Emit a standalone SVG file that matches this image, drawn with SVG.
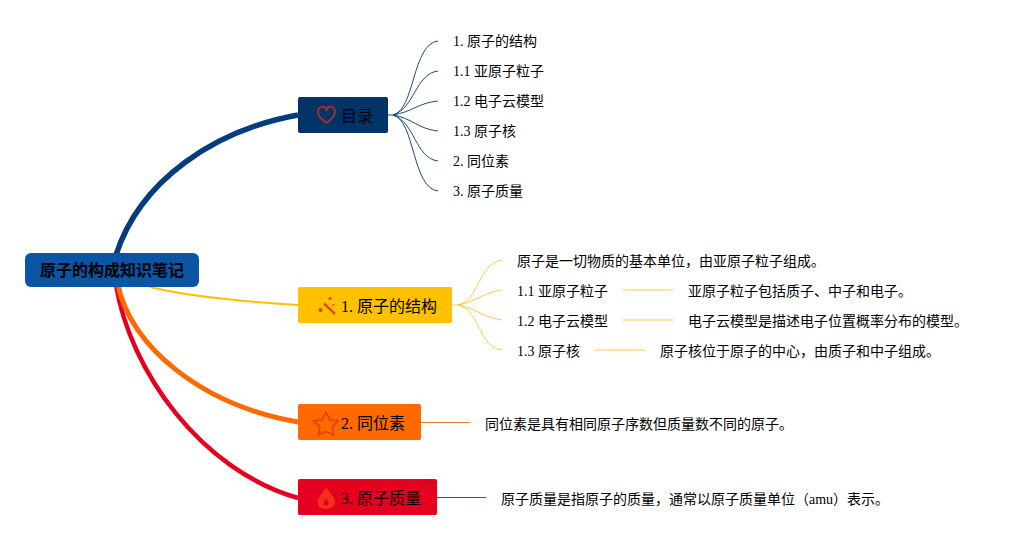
<svg xmlns="http://www.w3.org/2000/svg" width="1028" height="540" viewBox="0 0 1028 540">
<style>
text{font-family:"Liberation Serif","Noto Sans CJK SC",serif;fill:#000}
.t{font-size:14px}
.m{font-size:16px}
.r{font-size:16px;font-weight:bold}
.c{fill:none}
.thin{stroke-width:1}
.b{stroke:#1c4b80}.y{stroke:#ffc94d}
</style>
<rect width="1028" height="540" fill="#ffffff"/>
<g id="connectors">
<path class="c" stroke="#ffc000" stroke-width="2" d="M150 287C190 297 250 302 298 305"/>
<path class="c" stroke="#e60020" stroke-width="4.500" d="M116 285C130 370 200 470 298 498"/>
<path class="c" stroke="#ff6a00" stroke-width="5" d="M118 285C130 345 200 405 298 422"/>
<path class="c" stroke="#043d7d" stroke-width="5.500" d="M116 255C140 180 215 130 298 115"/>
<g class="c thin b">
<path d="M388 115H393C415 110 412 44 438 41"/>
<path d="M393 115C415 108 415 74 438 71"/>
<path d="M393 115C412 112 418 103 438 101"/>
<path d="M393 115C412 118 418 129 438 131"/>
<path d="M393 115C415 122 415 158 438 161"/>
<path d="M393 115C415 120 412 188 438 191"/>
</g>
<g class="c thin y">
<path d="M452 305H458C480 300 478 263 502 260"/>
<path d="M458 305C476 302 484 292 502 290"/>
<path d="M458 305C476 308 484 318 502 320"/>
<path d="M458 305C480 310 478 347 502 350"/>
<path d="M623 290H673"/>
<path d="M623 320H673"/>
<path d="M595 350H645"/>
</g>
<path class="c thin" stroke="#d9822b" d="M421 422.500H470"/>
<path class="c thin" stroke="#c2183a" d="M437 497.500H486"/>
</g>
<g id="root">
<rect x="25" y="253" width="174" height="34" rx="6" fill="#0b55a5"/>
<text class="r" x="40" y="276">原子的构成知识笔记</text>
</g>
<g id="node-toc">
<rect x="298" y="97" width="90" height="36" rx="2" fill="#003366"/>
<path d="M326.500 123C321 119 318 116 318 112C318 106 325 105 326.500 110C328 105 335 106 335 112C335 116 332 119 326.500 123Z" fill="none" stroke="#a83232" stroke-width="1.800"/>
<text class="m" x="341" y="122">目录</text>
</g>
<g id="node-1">
<rect x="298" y="287" width="154" height="36" rx="2" fill="#ffc000"/>
<path d="M324 303.500L335 314" stroke="#e0401a" stroke-width="2.400" fill="none"/>
<circle cx="320.500" cy="310" r="2" fill="#e0401a"/>
<circle cx="330" cy="298.500" r="1.500" fill="#e0401a"/>
<circle cx="333.500" cy="305" r="1" fill="#e0401a"/>
<text class="m" x="341" y="312">1. 原子的结构</text>
</g>
<g id="node-2">
<rect x="298" y="404" width="123" height="36" rx="2" fill="#ff6a00"/>
<path d="M326 412L329.800 419.700L338.300 420.900L332.200 426.900L333.600 435.300L326 431.300L318.400 435.300L319.800 426.900L313.700 420.900L322.200 419.700Z" fill="none" stroke="#ee3a00" stroke-width="1.600"/>
<text class="m" x="341" y="429">2. 同位素</text>
</g>
<g id="node-3">
<rect x="298" y="479" width="139" height="36" rx="2" fill="#e60020"/>
<path fill-rule="evenodd" d="M326 487C328 491 335 497 335 502C335 506.500 331 509 326 509C321 509 317.500 506.500 317.500 502C317.500 497 324 492 326 487ZM326 498C325 500 323.500 502 323.500 504C323.500 506 328.500 506 328.500 504C328.500 502 327 500 326 498Z" fill="#f0301a"/>
<text class="m" x="341" y="504">3. 原子质量</text>
</g>
<g id="toc-items">
<text class="t" x="453" y="46">1. 原子的结构</text>
<text class="t" x="453" y="76">1.1 亚原子粒子</text>
<text class="t" x="453" y="106">1.2 电子云模型</text>
<text class="t" x="453" y="136">1.3 原子核</text>
<text class="t" x="453" y="166">2. 同位素</text>
<text class="t" x="453" y="196">3. 原子质量</text>
</g>
<g id="structure-items">
<text class="t" x="517" y="266">原子是一切物质的基本单位，由亚原子粒子组成。</text>
<text class="t" x="517" y="296">1.1 亚原子粒子</text>
<text class="t" x="688" y="296">亚原子粒子包括质子、中子和电子。</text>
<text class="t" x="517" y="326">1.2 电子云模型</text>
<text class="t" x="688" y="326">电子云模型是描述电子位置概率分布的模型。</text>
<text class="t" x="517" y="356">1.3 原子核</text>
<text class="t" x="660" y="356">原子核位于原子的中心，由质子和中子组成。</text>
</g>
<g id="isotope-item">
<text class="t" x="485" y="429">同位素是具有相同原子序数但质量数不同的原子。</text>
</g>
<g id="mass-item">
<text class="t" x="501" y="504">原子质量是指原子的质量，通常以原子质量单位（amu）表示。</text>
</g>
</svg>
